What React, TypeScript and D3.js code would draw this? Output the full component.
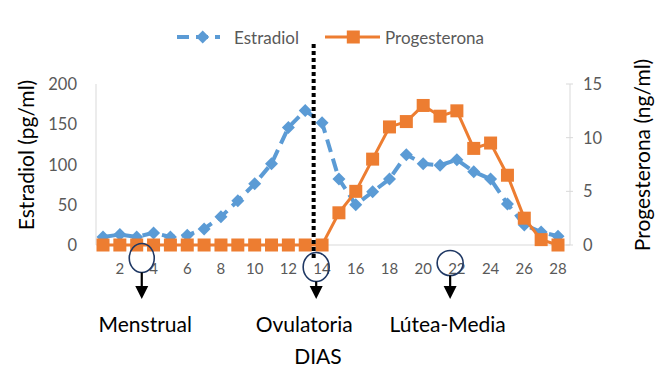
import React from "react";
import * as d3 from "d3";

const days = d3.range(1, 29);
const estradiol = [10, 13, 10, 15, 10, 12, 20, 35, 55, 76, 101, 146, 167, 152, 82, 50, 66, 82, 112, 101, 99, 106, 91, 82, 51, 25, 16, 11];
const progesterona = [0, 0, 0, 0, 0, 0, 0, 0, 0, 0, 0, 0, 0, 0, 3, 5, 8, 11, 11.5, 13, 12, 12.5, 9, 9.5, 6.5, 2.5, 0.5, 0];
const leftTicks = [0, 50, 100, 150, 200];
const rightTicks = [0, 5, 10, 15];
const bottomTicks = [2, 4, 6, 8, 10, 12, 14, 16, 18, 20, 22, 24, 26, 28];
const ovulationDay = 13.5;
const phases = [
  { name: "Menstrual", day: 3.3 },
  { name: "Ovulatoria", day: 13.65 },
  { name: "Lútea-Media", day: 21.6 },
];

const FONT = "Lato, 'Open Sans', sans-serif";
const BLUE = "#5B9BD5";
const ORANGE = "#ED7D31";
const GRAY = "#595959";

export default function App() {
  const W = 665, H = 382;
  const x = d3.scaleLinear().domain([1, 28]).range([103, 558]);
  const yL = d3.scaleLinear().domain([0, 200]).range([245, 84]);
  const yR = d3.scaleLinear().domain([0, 15]).range([245, 84]);
  const plotL = 96, plotR = 570;

  const lineE = d3.line<number>().x((_, i) => x(days[i])).y((d) => yL(d));
  const lineP = d3.line<number>().x((_, i) => x(days[i])).y((d) => yR(d));

  const circleGeom = [
    { cy: 258, rx: 12.5, ry: 14.5, label: { dx: 3.5 } },
    { cy: 267, rx: 13, ry: 14.5, label: { dx: -12 } },
    { cy: 263, rx: 13, ry: 12.5, label: { dx: -2.5 } },
  ];

  return (
    <svg width={W} height={H} style={{ position: "absolute", left: 0, top: 0, background: "#fff" }}>
      {/* axes */}
      <line x1={plotL} x2={plotL} y1={84} y2={245} stroke="#d9d9d9" strokeWidth={1} />
      <line x1={plotR} x2={plotR} y1={84} y2={245} stroke="#d9d9d9" strokeWidth={1} />
      <line x1={plotL} x2={plotR} y1={245} y2={245} stroke="#d9d9d9" strokeWidth={1} />
      {rightTicks.map((t) => (
        <line key={"rt" + t} x1={plotR - 4} x2={plotR + 3} y1={yR(t)} y2={yR(t)} stroke="#d9d9d9" strokeWidth={1} />
      ))}
      {leftTicks.map((t) => (
        <text key={"l" + t} x={77} y={yL(t)} textAnchor="end" dominantBaseline="central" fontFamily={FONT} fontSize={16.5} fill={GRAY}>
          {t}
        </text>
      ))}
      {rightTicks.map((t) => (
        <text key={"r" + t} x={583} y={yR(t)} textAnchor="start" dominantBaseline="central" fontFamily={FONT} fontSize={16.5} fill={GRAY}>
          {t}
        </text>
      ))}
      {bottomTicks.map((t) => (
        <text key={"b" + t} x={x(t)} y={273.5} textAnchor="middle" fontFamily={FONT} fontSize={15} fill={GRAY}>
          {t}
        </text>
      ))}
      {/* axis titles */}
      <text transform={`translate(25,155) rotate(-90)`} textAnchor="middle" dominantBaseline="central" fontFamily={FONT} fontSize={21} fill="#000">
        Estradiol (pg/ml)
      </text>
      <text transform={`translate(641,155) rotate(-90)`} textAnchor="middle" dominantBaseline="central" fontFamily={FONT} fontSize={21} fill="#000">
        Progesterona (ng/ml)
      </text>

      {/* Estradiol series */}
      <path d={lineE(estradiol) || ""} fill="none" stroke={BLUE} strokeWidth={4} strokeDasharray="13,7" />
      {estradiol.map((v, i) => (
        <path key={"e" + i} transform={`translate(${x(days[i])},${yL(v)})`} d="M0,-6.5L6.5,0L0,6.5L-6.5,0Z" fill={BLUE} />
      ))}
      {/* Progesterona series */}
      <path d={lineP(progesterona) || ""} fill="none" stroke={ORANGE} strokeWidth={3} />
      {progesterona.map((v, i) => (
        <rect key={"p" + i} x={x(days[i]) - 6.5} y={yR(v) - 6.5} width={13} height={13} fill={ORANGE} />
      ))}

      {/* ovulation line */}
      <line x1={x(ovulationDay)} x2={x(ovulationDay)} y1={44} y2={258} stroke="#000" strokeWidth={4} strokeDasharray="4,3" />

      {/* legend */}
      <line x1={175} x2={220} y1={37} y2={37} stroke={BLUE} strokeWidth={4} strokeDasharray="12,7" strokeDashoffset={-2} />
      <path transform="translate(202.7,37)" d="M0,-6.5L6.5,0L0,6.5L-6.5,0Z" fill={BLUE} />
      <text x={234} y={44} fontFamily={FONT} fontSize={17} fill={GRAY}>Estradiol</text>
      <line x1={325} x2={380} y1={37} y2={37} stroke={ORANGE} strokeWidth={3} />
      <rect x={353.3 - 6.5} y={30.5} width={13} height={13} fill={ORANGE} />
      <text x={385} y={44} fontFamily={FONT} fontSize={17} fill={GRAY}>Progesterona</text>

      {/* phase annotations */}
      {phases.map((p, i) => {
        const g = circleGeom[i];
        const cx = x(p.day);
        const top = g.cy + g.ry;
        return (
          <g key={p.name}>
            <ellipse cx={cx} cy={g.cy} rx={g.rx} ry={g.ry} fill="none" stroke="#1F3864" strokeWidth={1.6} />
            <line x1={cx} x2={cx} y1={top} y2={288} stroke="#000" strokeWidth={2.2} />
            <path d={`M${cx - 6.5},${286}L${cx + 6.5},${286}L${cx},${299}Z`} fill="#000" />
            <text x={cx + g.label.dx} y={332} textAnchor="middle" fontFamily={FONT} fontSize={21} fill="#000">
              {p.name}
            </text>
          </g>
        );
      })}
      <text x={318} y={364} textAnchor="middle" fontFamily={FONT} fontSize={21} fill="#000">DIAS</text>
    </svg>
  );
}
